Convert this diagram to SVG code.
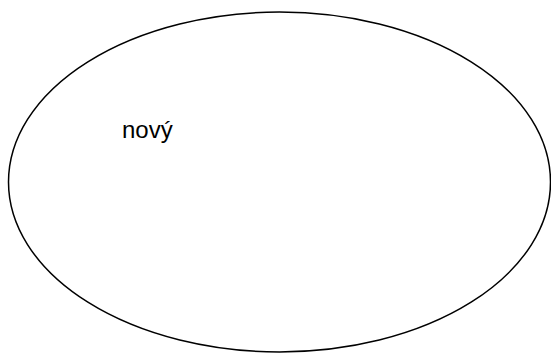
<svg xmlns="http://www.w3.org/2000/svg" width="551" height="353" viewBox="0 0 551 353">
<style>
.shape{fill:#fff;stroke:#000;stroke-width:1.5}
.lbl{font-family:"Liberation Sans",Arial,sans-serif;font-size:24px;fill:#000}
</style>
<rect width="551" height="353" fill="#fff"/>
<g id="node-novy">
<ellipse class="shape" cx="279.5" cy="182" rx="271" ry="170"/>
<text class="lbl" x="122" y="138">nový</text>
</g>
<g id="connectors"/>
</svg>
